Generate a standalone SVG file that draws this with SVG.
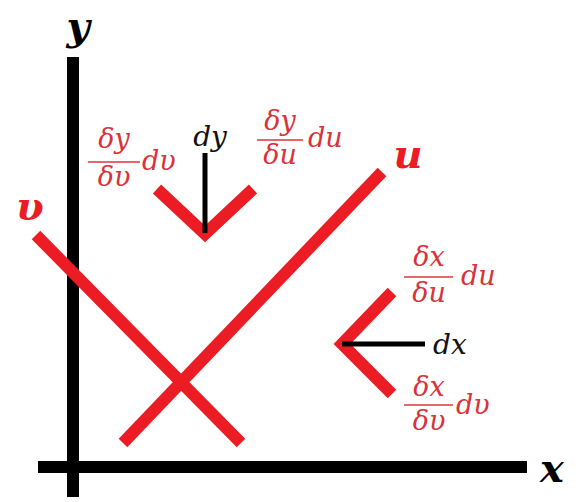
<svg xmlns="http://www.w3.org/2000/svg" width="585" height="502" viewBox="0 0 585 502">
<style>
.ax{stroke:#000;stroke-width:12;fill:none}
.rl{stroke:#ec1c24;stroke-width:12;fill:none;stroke-linecap:butt}
.bk{stroke:#000;stroke-width:5;fill:none}
.bar{stroke:#e0323a;stroke-width:1.6}
.t{font-family:"DejaVu Serif","Liberation Serif",serif;font-style:italic;font-size:27px;fill:#d9323a}
.tb{font-family:"DejaVu Serif","Liberation Serif",serif;font-style:italic;font-size:28px;fill:#111}
.lb{font-family:"DejaVu Serif","Liberation Serif",serif;font-style:italic;font-weight:bold;font-size:40px}
</style>
<rect width="585" height="502" fill="#fff"/>
<g id="axes">
<line class="ax" x1="73" y1="57" x2="73" y2="497"/>
<line class="ax" x1="38" y1="467" x2="527" y2="467"/>
<text class="lb" x="78" y="40" text-anchor="middle" fill="#000">y</text>
<text class="lb" x="552" y="482" text-anchor="middle" fill="#000">x</text>
</g>
<g id="u-line">
<line class="rl" x1="123" y1="443" x2="382" y2="172"/>
<text class="lb" x="408" y="168" text-anchor="middle" fill="#ec1c24">u</text>
</g>
<g id="v-line">
<line class="rl" x1="36" y1="235" x2="241" y2="443"/>
<text class="lb" x="30" y="220" text-anchor="middle" fill="#ec1c24">υ</text>
</g>
<g id="dy-node">
<polyline class="rl" points="157,189 205,234 253,189"/>
<line class="bk" x1="205" y1="153" x2="205" y2="233"/>
<text class="tb" x="210" y="146" text-anchor="middle">dy</text>
<text class="t" x="114" y="148" text-anchor="middle">δy</text>
<line class="bar" x1="88" y1="162" x2="140" y2="162"/>
<text class="t" x="114" y="186" text-anchor="middle">δυ</text>
<text class="t" x="142" y="170">dυ</text>
<text class="t" x="280" y="130" text-anchor="middle">δy</text>
<line class="bar" x1="257" y1="140" x2="303" y2="140"/>
<text class="t" x="280" y="164" text-anchor="middle">δu</text>
<text class="t" x="308" y="147">du</text>
</g>
<g id="dx-node">
<polyline class="rl" points="392,292 342,344 392,394"/>
<line class="bk" x1="342" y1="344" x2="425" y2="344"/>
<text class="tb" x="433" y="354">dx</text>
<text class="t" x="429" y="266" text-anchor="middle">δx</text>
<line class="bar" x1="404" y1="277" x2="453" y2="277"/>
<text class="t" x="429" y="302" text-anchor="middle">δu</text>
<text class="t" x="461" y="285">du</text>
<text class="t" x="429" y="396" text-anchor="middle">δx</text>
<line class="bar" x1="404" y1="405" x2="453" y2="405"/>
<text class="t" x="429" y="430" text-anchor="middle">δυ</text>
<text class="t" x="456" y="414">dυ</text>
</g>
</svg>
